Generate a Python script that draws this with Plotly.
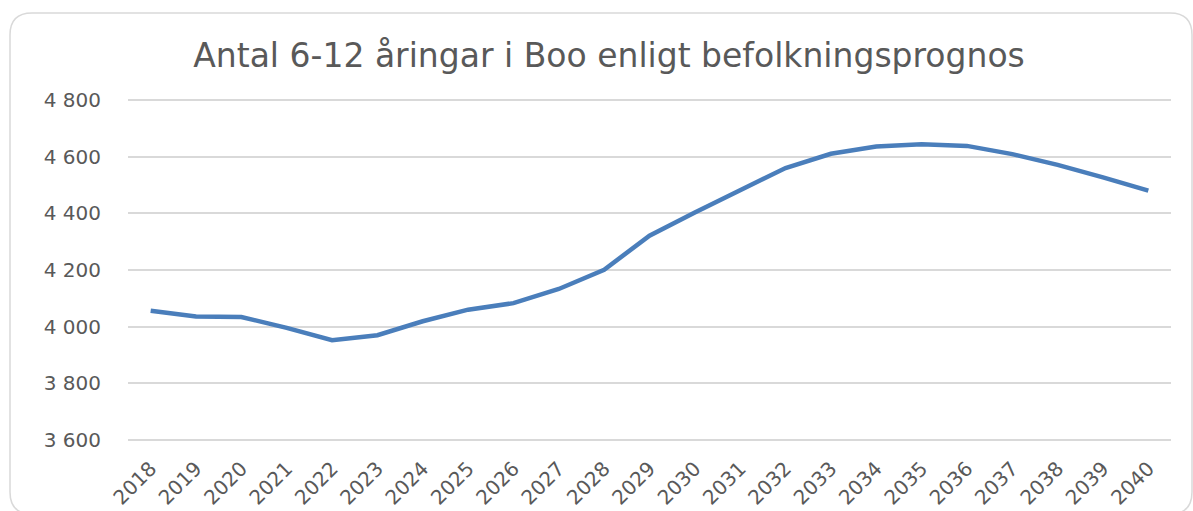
import plotly.graph_objects as go

years = [str(y) for y in range(2018, 2041)]
values = [4056, 4036, 4034, 3996, 3952, 3970, 4019, 4060, 4083, 4133, 4201,
          4321, 4403, 4483, 4560, 4610, 4636, 4644, 4638, 4609, 4571, 4527, 4480]
ytick_vals = [3600, 3800, 4000, 4200, 4400, 4600, 4800]

W, H = 1193, 511
L, R, T, B = 128, 22, 98, 69
pw, ph = W - L - R, H - T - B

fig = go.Figure()
fig.add_trace(go.Scatter(x=years, y=values, mode="lines",
                         line=dict(color="#4a7ebb", width=4.5), hoverinfo="x+y"))

def px(x):
    return (x - L) / pw

def py(y):
    return (H - B - y) / ph

r = 22
x0, y0, x1, y1 = 10, 13, 1192, 514
path = (f"M {px(x0)} {py(y0 + r)} Q {px(x0)} {py(y0)} {px(x0 + r)} {py(y0)} "
        f"L {px(x1 - r)} {py(y0)} Q {px(x1)} {py(y0)} {px(x1)} {py(y0 + r)} "
        f"L {px(x1)} {py(y1 - r)} Q {px(x1)} {py(y1)} {px(x1 - r)} {py(y1)} "
        f"L {px(x0 + r)} {py(y1)} Q {px(x0)} {py(y1)} {px(x0)} {py(y1 - r)} Z")
fig.add_shape(type="path", xref="paper", yref="paper", path=path,
              line=dict(color="#d9d9d9", width=1.5), layer="below")

fig.update_layout(
    width=W, height=H,
    margin=dict(l=L, r=R, t=T, b=B, autoexpand=False),
    paper_bgcolor="white", plot_bgcolor="white",
    separators=", ",
    showlegend=False,
    title=dict(text="Antal 6-12 åringar i Boo enligt befolkningsprognos",
               x=609 / W, xanchor="center", y=1 - 55 / H, yanchor="middle",
               font=dict(family="DejaVu Sans", size=33, color="#595959"),
               automargin=False),
    font=dict(family="DejaVu Sans", color="#595959"),
)
fig.update_xaxes(type="category", showgrid=False, showline=False, zeroline=False,
                 tickangle=-45, tickfont=dict(size=20, color="#595959"),
                 ticks="", ticklabelstandoff=10, range=[-0.5, 22.5], automargin=False)
fig.update_yaxes(range=[3593, 4807], tickvals=ytick_vals, tickformat=",d",
                 showgrid=True, gridcolor="#d9d9d9", gridwidth=1.5,
                 zeroline=False, showline=False, ticks="", automargin=False,
                 tickfont=dict(size=20, color="#595959"), ticklabelstandoff=26)

fig.write_html("out.html", config={"displayModeBar": False},
               post_script="document.body.style.margin='0';document.body.style.overflow='hidden';")
